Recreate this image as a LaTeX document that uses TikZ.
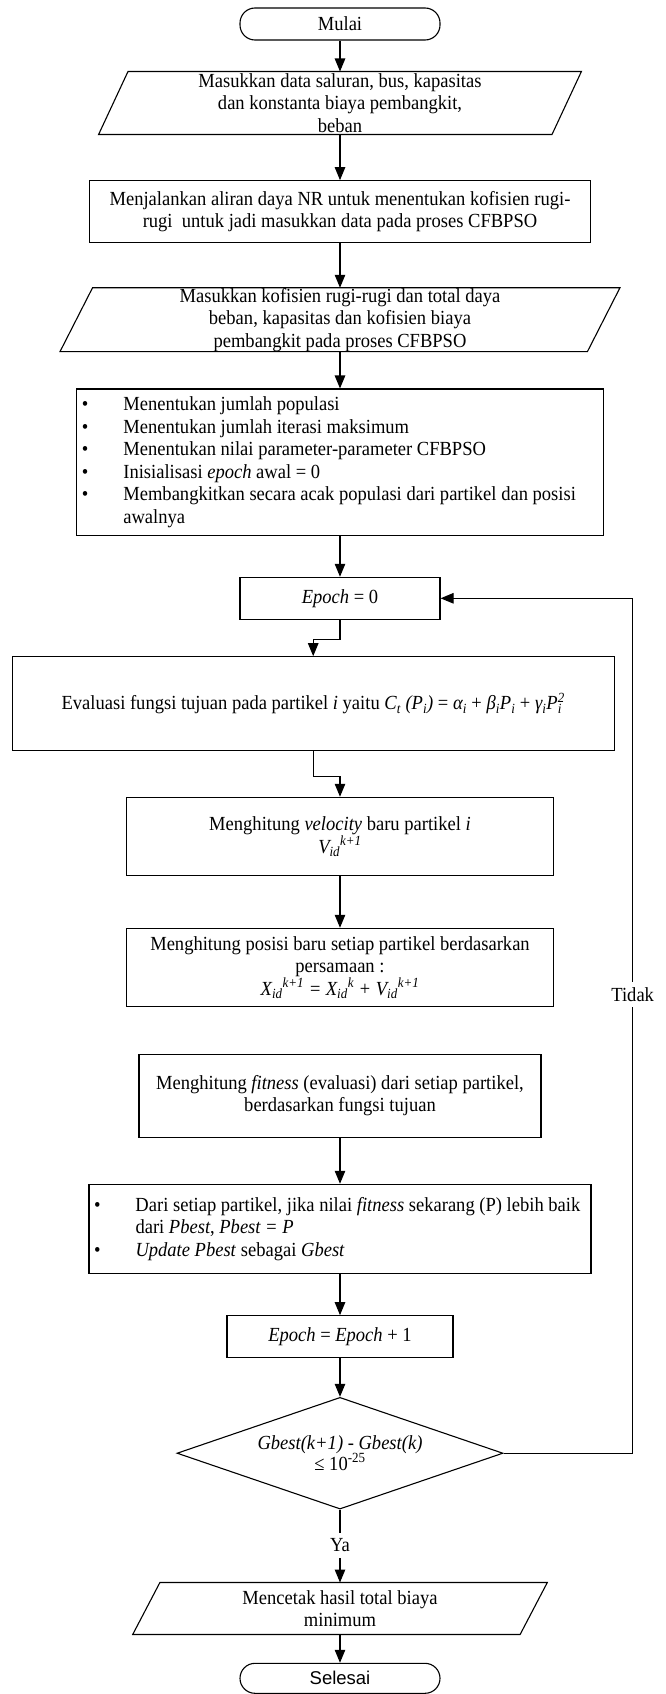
\documentclass[tikz,border=0pt]{standalone}
\usepackage{fontspec}
\setmainfont{Liberation Serif}[FakeStretch=0.927]
\newfontfamily\arialfont{Liberation Sans}
\usetikzlibrary{arrows.meta,shapes.geometric}
\begin{document}
\begin{tikzpicture}[x=1pt,y=-1pt,
  txt/.style={font=\fontsize{20}{22.5}\selectfont},
  ln/.style={line width=1.1pt},
  proc/.style={draw, ln, txt, align=center, inner sep=0pt},
  listbox/.style={draw, ln, txt, align=flush left, inner xsep=5pt, inner ysep=0pt},
  iobox/.style={txt, align=center, inner sep=0pt},
  term/.style={draw, ln, rounded corners=15pt, inner sep=0pt, minimum width=200pt},
  decision/.style={draw, ln, txt, diamond, aspect=2.9, inner sep=0pt, align=center},
  lbl/.style={txt, inner sep=0pt, minimum height=25pt},
  arr/.style={ln, -{Triangle[length=13pt,width=10.5pt]}}
]
\useasboundingbox (0,0) rectangle (665,1694);
\newcommand{\bul}{\makebox[41.5pt][l]{\textbullet}}

% nodes
\node[term, minimum height=32pt, txt] (mulai) at (340,24) {Mulai};

\node[iobox, minimum width=453pt, minimum height=62.6pt] (p1) at (340,103)
  {Masukkan data saluran, bus, kapasitas\\dan konstanta biaya pembangkit,\\beban};
\draw[ln] ([xshift=14.7pt]p1.north west) -- ([xshift=14.7pt]p1.north east)
  -- ([xshift=-14.7pt]p1.south east) -- ([xshift=-14.7pt]p1.south west) -- cycle;

\node[proc, minimum width=501pt, minimum height=61.6pt] (nr) at (340,211.5)
  {Menjalankan aliran daya NR untuk menentukan kofisien rugi-\\rugi\ \ untuk jadi masukkan data pada proses CFBPSO};

\node[iobox, minimum width=527pt, minimum height=62.7pt] (p2) at (340,319.65)
  {Masukkan kofisien rugi-rugi dan total daya\\beban, kapasitas dan kofisien biaya\\pembangkit pada proses CFBPSO};
\draw[ln] ([xshift=16.25pt]p2.north west) -- ([xshift=16.25pt]p2.north east)
  -- ([xshift=-16.25pt]p2.south east) -- ([xshift=-16.25pt]p2.south west) -- cycle;

\node[listbox, text width=516.3pt, minimum height=146.7pt] (init) at (340,462.35)
  {\bul Menentukan jumlah populasi\\
   \bul Menentukan jumlah iterasi maksimum\\
   \bul Menentukan nilai parameter-parameter CFBPSO\\
   \bul Inisialisasi \textit{epoch} awal = 0\\
   \bul Membangkitkan secara acak populasi dari partikel dan posisi\\
   \hspace*{41.5pt}awalnya};

\node[proc, minimum width=200pt, minimum height=42pt] (epoch) at (340,598.3)
  {\textit{Epoch} = 0};

\node[proc, minimum width=601.7pt, minimum height=94pt] (eval) at (313.2,703.7)
  {Evaluasi fungsi tujuan pada partikel \textit{i} yaitu \textit{C\textsubscript{t} (P\textsubscript{i})} = \textit{α\textsubscript{i}} + \textit{β\textsubscript{i}P\textsubscript{i}} + \textit{γ\textsubscript{i}P\rlap{\textsubscript{i}}\textsuperscript{2}}};

\node[proc, minimum width=427pt, minimum height=78.4pt] (vel) at (340,836.5)
  {Menghitung \textit{velocity} baru partikel \textit{i}\\\textit{V\textsubscript{id}\textsuperscript{k+1}}};

\node[proc, minimum width=427pt, minimum height=78.4pt] (pos) at (340,967.5)
  {Menghitung posisi baru setiap partikel berdasarkan\\persamaan :\\
   \textit{X\textsubscript{id}\textsuperscript{k+1} = X\textsubscript{id}\textsuperscript{k} + V\textsubscript{id}\textsuperscript{k+1}}};

\node[proc, minimum width=402pt, minimum height=83.3pt] (fit) at (340,1095.7)
  {Menghitung \textit{fitness} (evaluasi) dari setiap partikel,\\berdasarkan fungsi tujuan};

\node[listbox, text width=492pt, minimum height=89pt] (best) at (340,1228.8)
  {\bul \mbox{Dari setiap partikel, jika nilai \textit{fitness} sekarang (P) lebih baik}\\
   \hspace*{41.5pt}dari \textit{Pbest}, \textit{Pbest = P}\\
   \bul \textit{Update Pbest} sebagai \textit{Gbest}};

\node[proc, minimum width=226pt, minimum height=41.6pt] (ep1) at (340,1336.5)
  {\textit{Epoch} = \textit{Epoch} + 1};

\node[decision, minimum width=326pt, minimum height=111.7pt] (dec) at (340,1453.2)
  {\textit{Gbest(k+1) - Gbest(k)}\\[-2pt]≤ 10\textsuperscript{-25}};

\node[lbl] (ya) at (340,1545.3) {Ya};
\node[lbl] (tidak) at (632.7,994.2) {Tidak};

\node[iobox, minimum width=387pt, minimum height=51.6pt] (p3) at (340,1608.5)
  {Mencetak hasil total biaya\\minimum};
\draw[ln] ([xshift=13.6pt]p3.north west) -- ([xshift=13.6pt]p3.north east)
  -- ([xshift=-13.6pt]p3.south east) -- ([xshift=-13.6pt]p3.south west) -- cycle;

\node[term, minimum height=30pt, font=\arialfont\fontsize{18.5}{20}\selectfont] (sel) at (340,1678.3) {Selesai};

% connectors
\draw[arr] (mulai.south) -- (p1.north);
\draw[arr] (p1.south) -- (nr.north);
\draw[arr] (nr.south) -- (p2.north);
\draw[arr] (p2.south) -- (init.north);
\draw[arr] (init.south) -- (epoch.north);
\draw[arr] (epoch.south) -- ++(0,20) -| (eval.north);
\draw[arr] (eval.south) -- ++(0,25) -| (vel.north);
\draw[arr] (vel.south) -- (pos.north);
\draw[arr] (fit.south) -- (best.north);
\draw[arr] (best.south) -- (ep1.north);
\draw[arr] (ep1.south) -- (dec.north);
\draw[ln] (dec.south) -- (ya.north);
\draw[arr] (ya.south) -- (p3.north);
\draw[arr] (p3.south) -- (sel.north);
\draw[ln] (dec.east) -| (tidak.south);
\draw[arr] (tidak.north) |- (epoch.east);
\end{tikzpicture}
\end{document}
